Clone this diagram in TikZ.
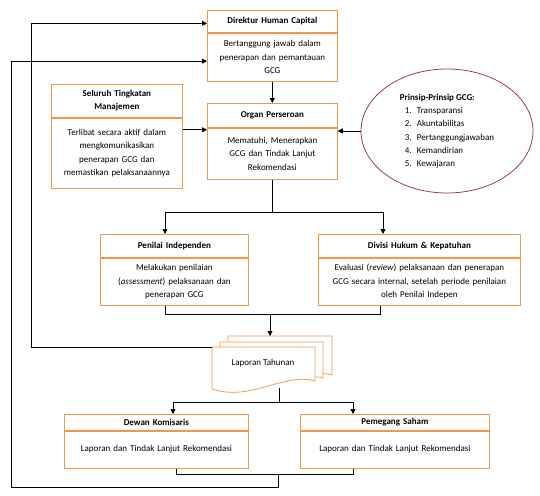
\documentclass[tikz,border=0pt]{standalone}
\usepackage{fontspec}
\setmainfont{Carlito}
\usepackage{tikz}
\usetikzlibrary{arrows.meta,positioning,shapes}
\definecolor{gcgor}{HTML}{F79646}
\definecolor{gcgred}{HTML}{953735}
\newcommand{\gcgfont}{\fontsize{9}{13.3}\selectfont}
\newcommand{\pitem}[2]{\hspace*{5pt}\makebox[12pt][l]{#1}#2}

\begin{document}
\begin{tikzpicture}[x=1pt,y=-1pt,node distance=0pt]
      \tikzstyle{hd}=[draw=gcgor,line width=0.75pt,font=\gcgfont\bfseries,align=center,inner xsep=3pt,inner ysep=0pt,anchor=north west]
      \tikzstyle{bd}=[draw=gcgor,line width=0.75pt,font=\gcgfont,align=center,inner xsep=3pt,inner ysep=0pt]
      \tikzstyle{ar}=[-{Triangle[length=5pt,width=5pt]},line width=0.8pt]
      \tikzstyle{ln}=[line width=0.8pt]
      \useasboundingbox (0,0) rectangle (540,495);
      % boxes
      \node[hd,text width=124pt,minimum height=22pt] (dir) at (207,10) {Direktur Human Capital};
      \node[bd,text width=124pt,minimum height=48pt,below=of dir] (dirb) {Bertanggung jawab dalam\\penerapan dan pemantauan\\GCG};
      \node[hd,text width=124pt,minimum height=24pt] (org) at (207,103) {Organ Perseroan};
      \node[bd,text width=124pt,minimum height=51pt,below=of org] (orgb) {Mematuhi, Menerapkan\\GCG dan Tindak Lanjut\\Rekomendasi};
      \node[hd,text width=125pt,minimum height=33pt] (sel) at (51,84) {Seluruh Tingkatan\\Manajemen};
      \node[bd,text width=125pt,minimum height=70pt,below=of sel] (selb) {Terlibat secara aktif dalam\\mengkomunikasikan\\penerapan GCG dan\\memastikan pelaksanaannya};
      \node[ellipse,draw=gcgred,line width=0.75pt,minimum width=172pt,minimum height=124pt,font=\gcgfont,align=left] (prin) at (447,131)
        {\textbf{Prinsip-Prinsip GCG:}\\\pitem{1.}{Transparansi}\\\pitem{2.}{Akuntabilitas}\\\pitem{3.}{Pertanggungjawaban}\\\pitem{4.}{Kemandirian}\\\pitem{5.}{Kewajaran}};
      \node[hd,text width=142pt,minimum height=23pt] (pen) at (100,234) {Penilai Independen};
      \node[bd,text width=142pt,minimum height=47pt,below=of pen] (penb) {Melakukan penilaian\\(\textit{assessment}) pelaksanaan dan\\penerapan GCG};
      \node[hd,text width=196pt,minimum height=23pt] (div) at (318,234) {Divisi Hukum \& Kepatuhan};
      \node[bd,text width=196pt,minimum height=47pt,below=of div] (divb) {Evaluasi (\textit{review}) pelaksanaan dan penerapan\\GCG secara internal, setelah periode penilaian\\oleh Penilai Indepen};
      \node[hd,text width=178pt,minimum height=16pt] (dew) at (64,414) {Dewan Komisaris};
      \node[bd,text width=178pt,minimum height=37pt,below=of dew] (dewb) {Laporan dan Tindak Lanjut Rekomendasi};
      \node[hd,text width=183pt,minimum height=16pt] (pem) at (300,414) {Pemegang Saham};
      \node[bd,text width=183pt,minimum height=37pt,below=of pem] (pemb) {Laporan dan Tindak Lanjut Rekomendasi};
      % laporan tahunan (multi document)
      \draw[gcgor,line width=0.75pt,fill=white] (228,336) -- (332,336) -- (332,375) .. controls (310,368) and (262,388) .. (228,378) -- cycle;
      \draw[gcgor,line width=0.75pt,fill=white] (220,342) -- (323,342) -- (323,378) .. controls (300,371) and (254,393) .. (220,383) -- cycle;
      \draw[gcgor,line width=0.75pt,fill=white] (212,347) -- (315,347) -- (315,381) .. controls (285,372) and (250,402) .. (212,389) -- cycle;
      \node[font=\gcgfont] (lap) at (263,363) {Laporan Tahunan};
      \coordinate (lapin) at (270,336);
      \coordinate (lapout) at (279,388);
      \coordinate (lapleft) at (212,347);
      % connectors
      \draw[ar] (dirb.south) -- (org.north);
      \draw[ar] ([yshift=-12pt]selb.north east) -- ([yshift=-12pt]selb.north east -| orgb.west);
      \draw[ar] (prin.west) -- (prin.west -| orgb.east);
      \draw[ln] (orgb.south) -- ++(0,33) coordinate (split);
      \draw[ar] (split) -| ([xshift=65pt]pen.north west);
      \draw[ar] (split) -| ([xshift=65pt]div.north west);
      \coordinate (merge) at (270,314);
      \draw[ln] ([xshift=65pt]penb.south west) |- (merge);
      \draw[ln] ([xshift=62pt]divb.south west) |- (merge);
      \draw[ar] (merge) -- (lapin);
      \draw[ln] (lapout) -- ++(0,14) coordinate (split2);
      \draw[ar] (split2) -| ([xshift=109pt]dew.north west);
      \draw[ar] (split2) -| ([xshift=53pt]pem.north west);
      \coordinate (join) at (278,474);
      \draw[ln] ([xshift=112pt]dewb.south west) |- (join);
      \draw[ln] ([xshift=53pt]pemb.south west) |- (join);
      \draw[ar] (join) |- (11,487) |- ([yshift=-4pt]dirb.west);
      \draw[ar] (lapleft) -- (31,347) |- ([yshift=-2pt]dir.west);
    \end{tikzpicture}
\end{document}
